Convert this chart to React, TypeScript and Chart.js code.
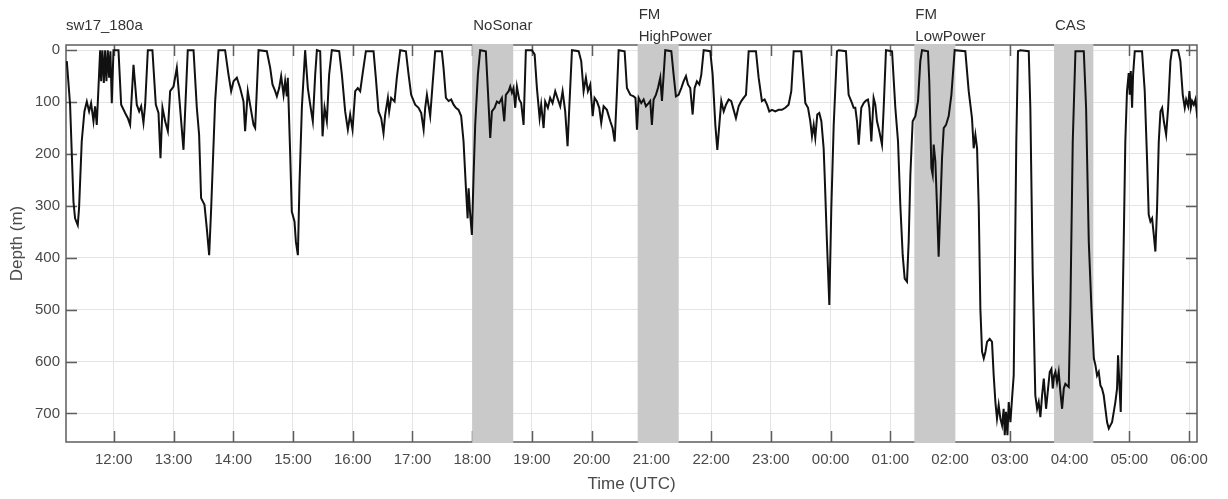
import React, { useEffect, useRef } from "react";
import { Chart, registerables } from "chart.js";

Chart.register(...registerables);

// Time is given in minutes after 12:00 UTC; depth in metres.
const seg1Minutes = [-47.2,-43.9,-40.5,-38.9,-36.2,-34.9,-32.2,-29.5,-27.1,-24.8,-22.8,-20.4,-18.8,-17.1,-15.4,-13.7,-12.7,-11.4,-10,-8.7,-7.4,-6,-4.7,-3.4,-2,-0.3,4.7,7.4,11.4,14.1,16.4,19.8,23.1,25.5,27.5,29.8,31.5,34.2,38.8,42.2,44.9,46.9,48.9,51.6,54.3,56.6,60,63.3,66.6,70,74.3,80.1,83.4,85.7,87.7,91.1,93.4,95.8,97.8,101.8,105.2,111.8,115.2,117.9,120.3,123.6,126.9,130.3,131.9,134.6,136.9,140.4];
const seg1Depth = [21,105,292,324,337,305,176,118,99,118,102,137,108,144,73,0,60,0,63,0,60,0,53,2,102,0,0,105,121,131,144,28,105,118,108,140,105,0,0,105,121,208,111,137,156,79,70,34,111,192,0,0,111,163,285,298,343,395,305,99,0,0,47,79,60,53,73,99,156,79,105,144];

const seg2Minutes = [142,145.4,153.7,157.1,159.4,162.1,163.8,166.1,168.1,170.5,172.1,173.8,174.8,177.1,178.8,181.5,182.9,184.9,186.5,188.9,192.2,194.9,197.3,199.9,202.3,204,207.3,209.7,211.7,214,216.3,219,226.4,229.1,232.4,235.1,237.4,239.8,242.5,245.1,247.5,249.8,253.2,260.9,263.2,265.9,268.6,270.9,272.6,275.3,276.6,278.6,282,284.3,287.7,293.4,296.1,298.7,302.7,306.1,308.8,311.2,312.8,314.5,317.8,320.2,322.8,329.5];
const seg2Depth = [150,0,2,34,66,79,89,73,50,86,60,89,53,195,311,330,369,395,259,111,0,73,105,137,47,0,2,166,111,137,47,0,2,47,118,153,124,153,79,73,79,47,2,2,53,118,131,160,124,92,118,92,99,53,0,2,47,86,105,111,121,153,111,86,127,66,2,2];

const seg3Minutes = [331.2,333.6,336.3,338.9,341.3,343.6,346.3,348.9,351.3,353.7,355.4,356.4,358,359.7,361.4,363,365.7,368,373.7,375.8,378.1,379.8,382.5,384.8,387.1,389.8,392.2,393.8,396.6,398.2,399.9,401.5,403.2,404.9,407.2,409.2,411.6,413.9,420,422.7,425,427.7,429.3,431.7,433.3,436,438.3,440.7,443.4,446.1,448.4,450.8,453.4,455.8,457.5,460.2,466.9,469.5,471.9,474.2,476.2,478.6,481,482.9,485.3,487.6,489.6,492,495.3,498.7,501,503.1,505.4,507.1,513.1,515.4,518.8,522.2];
const seg3Depth = [34,92,98,95,105,111,115,127,176,266,324,266,317,356,240,144,47,0,2,79,169,118,111,99,102,92,137,86,79,70,82,73,111,70,95,102,144,0,0,8,73,131,105,150,99,111,92,102,79,95,108,79,118,185,111,0,2,21,79,53,79,66,127,92,99,111,140,108,115,137,150,176,79,0,2,73,86,89];

const seg4Minutes = [524,525.5,527.2,529.8,532.2,534.5,537.2,538.8,540.5,542.2,544.5,546.6,548.9,550.6,552.3,553.9,560,562.3,564.6,567.3,570,572.3,574.7,576.7,579,581.4,583.4,585.7,588.1,590.1,592.5,599.1,601.5,604.2,606.2,608.2,610.2,612.6,614.9,617.6,620.2,622.6,624.9,627.6,630.3,632.6,635,637.7,645,647.7,651,653.7,656.1,658.4,661.1,664.4,667.8,671.1,674.5,677.8,680.5,682.9,690.5,692.9,694.6,697.3,699.6,701.3,703,704.6,706.6,708.6,710.7,713];
const seg4Depth = [92,153,92,102,95,108,102,98,144,95,86,73,53,98,47,0,2,47,89,86,73,60,50,66,73,124,73,60,66,47,0,2,47,144,192,144,98,118,105,95,98,115,131,108,98,92,86,2,2,53,98,95,105,118,115,118,115,115,111,105,79,2,2,60,102,111,137,166,144,169,124,121,137,189];

const seg5Minutes = [714,716.3,718.7,720.7,723.1,726.4,728.1,735.4,738.1,741.5,743.1,744.8,746.5,748.2,750.8,753.2,755.5,757.5,758.9,760.9,763.2,764.9,766.6,768.9,771.6,773.3,775.6,781.7,785,787.7,790,792.4,794.4,796.7,798.4,800.1,802.4,805.1,807.8,810.1,811.8,817.8,819.1,821.2,822.5,823.5,825.2,826.9,828.5,830.2,831.9,833.6,835.9,838.6,841.3,844.6,855.3,858.7,862,863.7,865.4,867.1,868.8,870.4,872.1,873.8,875.5,877.1,879.8,882.1,883.8,885.5,887.1,888.8,890.5,892.2,893.8,894.9,896.2,897.6,898.9,900.6,902.2,903.9];
const seg5Depth = [240,369,491,304,144,2,0,2,86,102,111,111,137,182,111,102,97,95,111,176,92,105,137,156,182,111,0,2,111,176,298,395,440,446,369,240,137,127,98,21,0,2,60,227,240,182,214,304,398,304,208,150,144,127,86,0,2,79,131,189,163,189,304,498,581,594,581,562,556,562,627,678,710,684,710,723,691,742,697,742,678,717,672,627];

const seg6Minutes = [906.5,908.2,910.6,919,920.6,923,925.6,927.4,929,930.7,932.4,934.1,936.4,938.4,940.1,941.8,943.1,944.5,945.8,947.4,949.1,950.8,952.5,954.2,955.8,957.5,959.2,960.8,963.2,965.9,974.3,976.6,979.3,982,984.4,986,987.6,989.3,991,992.6,994.3,996,997.7,999.4,1001,1002.7,1004.4,1006,1007.7,1008.7,1010.1,1011.4,1012.7,1014.4,1016,1017.7,1019.4,1020.4,1021.5,1022.8,1023.8,1025.5,1032.8,1035.5,1037.8,1039.5,1041.2,1042.9,1044.6,1046.2,1047.9,1049.6,1051.3,1053,1054.7,1057,1059,1061.3,1062.9,1069,1071.3,1073.7,1075.7,1077.1,1079.1,1080.4,1081.8,1083.1,1084.8,1086.4,1088.4];
const seg6Depth = [176,2,0,2,111,433,665,691,678,707,665,633,691,652,620,614,652,627,620,640,620,659,691,652,643,646,649,498,176,2,2,111,369,498,594,607,627,620,646,652,665,691,717,729,723,717,697,678,652,588,646,697,562,369,176,79,44,86,40,111,47,2,2,79,208,317,330,324,356,388,304,176,118,111,137,163,111,21,0,0,21,86,111,95,108,79,111,98,105,95,131];

// Treatment periods (minutes after 12:00 UTC)
const bandLabels = [["NoSonar"], ["FM", "HighPower"], ["FM", "LowPower"], ["CAS"]];
const bandStart = [360, 526.2, 804.1, 944.4];
const bandEnd = [401.2, 567.4, 845.3, 983.9];

const xTickMinutes = [0, 60, 120, 180, 240, 300, 360, 420, 480, 540, 600, 660, 720, 780, 840, 900, 960, 1020, 1080];
const yTickDepths = [0, 100, 200, 300, 400, 500, 600, 700];
const chartTitle = "sw17_180a";

const FONT = "'Liberation Sans', Arial, sans-serif";

function fmtTime(v: number): string {
  const h = (((12 + Math.round(v / 60)) % 24) + 24) % 24;
  return (h < 10 ? "0" : "") + h + ":00";
}

export default function App() {
  const ref = useRef<HTMLCanvasElement | null>(null);

  useEffect(() => {
    const canvas = ref.current;
    if (!canvas) return;
    const segsT = [seg1Minutes, seg2Minutes, seg3Minutes, seg4Minutes, seg5Minutes, seg6Minutes];
    const segsD = [seg1Depth, seg2Depth, seg3Depth, seg4Depth, seg5Depth, seg6Depth];
    const pts: { x: number; y: number }[] = [];
    segsT.forEach((ts, s) => {
      const ds = segsD[s];
      const n = Math.min(ts.length, ds.length);
      for (let i = 0; i < n; i++) pts.push({ x: ts[i], y: ds[i] });
    });

    const decor = {
      id: "decor",
      beforeDatasetsDraw(chart: any) {
        const { ctx, chartArea: a, scales } = chart;
        const xs = scales.x;
        const ys = scales.y;
        ctx.save();
        // frame
        ctx.strokeStyle = "#5e5e5e";
        ctx.lineWidth = 1.5;
        ctx.strokeRect(a.left, a.top, a.right - a.left, a.bottom - a.top);
        // inward ticks
        const TL = 11;
        ctx.beginPath();
        xTickMinutes.forEach((v) => {
          const px = Math.round(xs.getPixelForValue(v)) + 0.5;
          if (px < a.left || px > a.right) return;
          ctx.moveTo(px, a.bottom);
          ctx.lineTo(px, a.bottom - TL);
          ctx.moveTo(px, a.top);
          ctx.lineTo(px, a.top + TL);
        });
        yTickDepths.forEach((v) => {
          const py = Math.round(ys.getPixelForValue(v)) + 0.5;
          ctx.moveTo(a.left, py);
          ctx.lineTo(a.left + TL, py);
          ctx.moveTo(a.right, py);
          ctx.lineTo(a.right - TL, py);
        });
        ctx.stroke();
        // shaded periods
        ctx.fillStyle = "#c9c9c9";
        bandStart.forEach((s, i) => {
          const x0 = xs.getPixelForValue(s);
          const x1 = xs.getPixelForValue(bandEnd[i]);
          ctx.fillRect(x0, a.top - 1, x1 - x0, a.bottom - a.top + 2);
        });
        // labels
        ctx.fillStyle = "#333333";
        ctx.font = "15px " + FONT;
        ctx.textBaseline = "middle";
        ctx.textAlign = "left";
        ctx.fillText(chartTitle, a.left, 26);
        bandLabels.forEach((lines, i) => {
          const x0 = xs.getPixelForValue(bandStart[i]) + 1;
          if (lines.length === 1) {
            ctx.fillText(lines[0], x0, 26);
          } else {
            ctx.fillText(lines[0], x0, 15);
            ctx.fillText(lines[1], x0, 37);
          }
        });
        ctx.restore();
      },
    };

    const chart = new Chart(canvas, {
      type: "line",
      data: {
        datasets: [
          {
            data: pts,
            borderColor: "#111111",
            borderWidth: 2,
            pointRadius: 0,
            fill: false,
            tension: 0,
          },
        ],
      },
      options: {
        animation: false,
        responsive: false,
        devicePixelRatio: 1,
        layout: { padding: { top: 45, right: 31, left: 0, bottom: 0 } },
        plugins: {
          legend: { display: false },
          tooltip: { enabled: false },
        },
        scales: {
          x: {
            type: "linear",
            min: -48,
            max: 1088,
            afterBuildTicks: (scale: any) => {
              scale.ticks = xTickMinutes.map((v) => ({ value: v }));
            },
            afterFit: (scale: any) => {
              scale.height = 57;
            },
            grid: { color: "#e4e4e4", lineWidth: 1, drawTicks: false },
            border: { display: false },
            ticks: {
              padding: 9,
              maxRotation: 0,
              autoSkip: false,
              color: "#4a4a4a",
              font: { size: 15, family: FONT },
              callback: (v: any) => fmtTime(Number(v)),
            },
            title: {
              display: true,
              text: "Time (UTC)",
              color: "#4a4a4a",
              font: { size: 17, family: FONT },
              padding: { top: 0, bottom: 4 },
            },
          },
          y: {
            type: "linear",
            reverse: true,
            min: -10,
            max: 755,
            afterBuildTicks: (scale: any) => {
              scale.ticks = yTickDepths.map((v) => ({ value: v }));
            },
            afterFit: (scale: any) => {
              scale.width = 66;
            },
            grid: { color: "#e4e4e4", lineWidth: 1, drawTicks: false },
            border: { display: false },
            ticks: {
              padding: 6,
              color: "#4a4a4a",
              font: { size: 15, family: FONT },
              callback: (v: any) => String(v),
            },
            title: {
              display: true,
              text: "Depth (m)",
              color: "#4a4a4a",
              font: { size: 17, family: FONT },
              padding: { top: 7, bottom: 0 },
            },
          },
        },
      },
      plugins: [decor],
    } as any);

    return () => chart.destroy();
  }, []);

  return (
    <div style={{ position: "absolute", left: 0, top: 0, width: 1228, height: 499, background: "#ffffff" }}>
      <canvas ref={ref} width={1228} height={499} style={{ display: "block" }} />
    </div>
  );
}
